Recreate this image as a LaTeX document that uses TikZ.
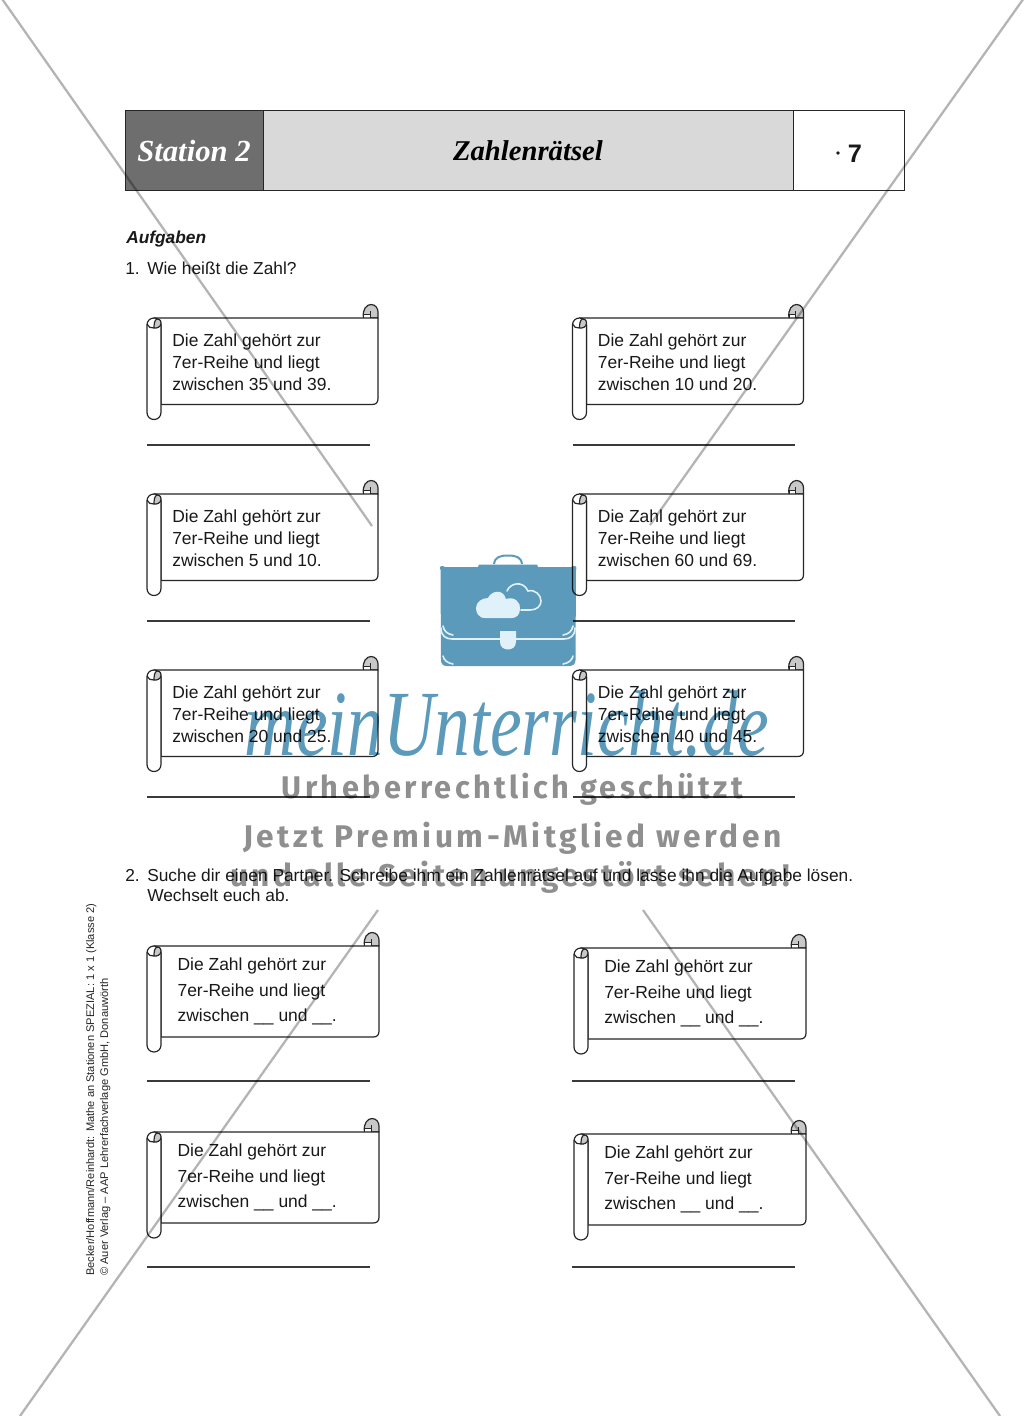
\documentclass[tikz,border=0pt]{standalone}
\usepackage{fontspec}
\usetikzlibrary{calc}
\setmainfont{Liberation Sans}
\newfontfamily\headfont{Liberation Serif}
\newfontfamily\wmscript{Liberation Serif}
\newfontfamily\wmfont[LetterSpace=11]{Fira Sans}
\definecolor{wmblue}{HTML}{5B9ABA}
\definecolor{wmgray}{HTML}{8F8F8F}
\definecolor{diag}{HTML}{B4B4B4}
\definecolor{headdark}{HTML}{6E6E6E}
\definecolor{headlight}{HTML}{D9D9D9}
\definecolor{rollgray}{HTML}{C8C8C8}
\definecolor{linegray}{HTML}{3A3A3A}
\definecolor{cloudpale}{HTML}{E1F1FA}
\tikzset{
  scrollline/.style={draw=black!85,line width=0.9pt,line join=round},
  scrollthin/.style={draw=black!85,line width=0.5pt,line join=round},
  answerline/.style={draw=linegray,line width=0.9pt},
  diagline/.style={draw=diag,line width=1.7pt},
  bodytext/.style={anchor=north west,inner sep=0pt,font=\fontsize{13.1}{16.5}\selectfont,align=left,text=black!90},
  bodytextb/.style={anchor=north west,inner sep=0pt,font=\fontsize{13.1}{18.8}\selectfont,align=left,text=black!90},
  plain/.style={anchor=base west,inner sep=0pt,font=\fontsize{13}{15}\selectfont,text=black!90},
  wmgrey/.style={anchor=base,inner sep=0pt,text=wmgray,font=\fontsize{23.5}{24}\bfseries\wmfont},
  headbox/.style={draw=black!85,line width=0.8pt,minimum height=60pt,inner sep=0pt,anchor=north west},
  sidetext/.style={rotate=90,anchor=base west,inner sep=0pt,font=\fontsize{8.32}{10}\selectfont,text=black!85},
  bagline/.style={draw=cloudpale,line width=1.2pt,line cap=round},
}
% #1 x left, #2 y top, #3 x right, #4 y bottom
\newcommand{\scrollshape}[4]{%
  \begin{scope}[shift={(#1,#2)}]
    \pgfmathsetmacro{\wd}{#3-#1}
    \pgfmathsetmacro{\ht}{#4-#2}
    % right curl
    \filldraw[scrollline,fill=rollgray] (\wd-14.5,0) .. controls (\wd-16,-9) and (\wd-11,-13.5) .. (\wd-7,-13.5) .. controls (\wd-2,-13.5) and (\wd,-9) .. (\wd,-6) -- (\wd,0) -- cycle;
    \filldraw[scrollthin,fill=white] (\wd-14.5,0) -- (\wd-14.5,-4) -- (\wd-8,-4) -- (\wd-8,0) -- cycle;
    \draw[scrollthin] (\wd-8,-4) -- (\wd-8,-7);
    % main sheet
    \filldraw[scrollline,fill=white] (7,0) -- (\wd,0) -- (\wd,\ht-6) .. controls (\wd,\ht-2) and (\wd-2,\ht) .. (\wd-6,\ht) -- (14,\ht) -- (14,7) -- cycle;
    % left roll
    \filldraw[scrollline,fill=white] (7,0) .. controls (3,0) and (0,3) .. (0,7) -- (0,\ht+8) .. controls (0,\ht+12) and (3,\ht+15) .. (7,\ht+15) .. controls (11,\ht+15) and (14,\ht+12) .. (14,\ht+8) -- (14,7) .. controls (14,3) and (11,0) .. (7,0) -- cycle;
    \filldraw[scrollline,fill=rollgray] (14,5) .. controls (14,1.5) and (11,0.5) .. (10,1) .. controls (7.5,2) and (7,6) .. (7,10) .. controls (10,10.5) and (14,9) .. (14,5) -- cycle;
    \draw[scrollline] (0,6) .. controls (1,9) and (4,10.5) .. (7,10) ;
  \end{scope}}
\begin{document}
\begin{tikzpicture}[x=0.75pt,y=-0.75pt]
\useasboundingbox (0,0) rectangle (1024,1416);
\fill[white] (0,0) rectangle (1024,1416);

% header
\node[headbox,fill=headdark,minimum width=103.9pt] (hA) at (124.8,110) {};
\node[headbox,fill=headlight,minimum width=397.5pt] (hB) at (263,110) {};
\node[headbox,fill=white,minimum width=83.25pt] (hC) at (793,110) {};
\node[text=white,inner sep=0pt,font=\fontsize{23}{24}\headfont\bfseries\itshape] (hAt) at (194,151) {Station 2};
\node[text=black,inner sep=0pt,font=\fontsize{21.5}{24}\headfont\bfseries\itshape] (hBt) at (528,151) {Zahlenrätsel};
\node[anchor=base west,text=black!90,inner sep=0pt,font=\fontsize{19}{20}\bfseries] (hCt) at (847.5,162) {7};
\fill[black!90] (838,153) circle[radius=1.8];

% headings
\node[plain,font=\fontsize{13}{15}\bfseries\itshape] (auf) at (126,243.5) {Aufgaben};
\node[plain] (t1n) at (125,274.5) {1.};
\node[plain] (t1) at (147,274.5) {Wie heißt die Zahl?};

% first group
\foreach \xa/\ya/\tx/\nam/\va/\vb in {147/318/172/a/35/39,572.5/318/597.7/b/10/20,147/494/172/c/5/10,572.5/494/597.7/d/60/69,147/670/172/e/20/25,572.5/670/597.7/f/40/45}{
  \pgfmathsetmacro{\xb}{\xa+231}
  \pgfmathsetmacro{\yb}{\ya+86.5}
  \pgfmathsetmacro{\yc}{\ya+127}
  \pgfmathsetmacro{\xc}{\xa+222.5}
  \pgfmathsetmacro{\yt}{\ya+15.5}
  \scrollshape{\xa}{\ya}{\xb}{\yb}
  \node[bodytext] (txt\nam) at (\tx,\yt) {Die Zahl gehört zur\\7er-Reihe und liegt\\zwischen \va{} und \vb.};
  \coordinate (lA\nam) at (\xa,\yc);
  \coordinate (lB\nam) at (\xc,\yc);
  \draw[answerline] (lA\nam) -- (lB\nam);
}

% task 2
\node[plain] (t2n) at (125,881) {2.};
\node[plain] (t2a) at (147,881) {Suche dir einen Partner. Schreibe ihm ein Zahlenrätsel auf und lasse ihn die Aufgabe lösen.};
\node[plain] (t2b) at (147,901.5) {Wechselt euch ab.};

% second group
\foreach \xa/\ya/\tx/\ly/\lx/\nam in {147/946/177.3/1081/147/g,574/948/604/1081/572/h,147/1132/177.3/1267/147/i,574/1134/604/1267/572/j}{
  \pgfmathsetmacro{\xb}{\xa+232}
  \pgfmathsetmacro{\yb}{\ya+91}
  \pgfmathsetmacro{\xc}{\lx+223}
  \pgfmathsetmacro{\yt}{\ya+12}
  \scrollshape{\xa}{\ya}{\xb}{\yb}
  \node[bodytextb] (txt\nam) at (\tx,\yt) {Die Zahl gehört zur\\7er-Reihe und liegt\\zwischen \_\_ und \_\_.};
  \coordinate (lA\nam) at (\lx,\ly);
  \coordinate (lB\nam) at (\xc,\ly);
  \draw[answerline] (lA\nam) -- (lB\nam);
}

% side text
\node[sidetext] (s1) at (94,1276) {Becker/Hoffmann/Reinhardt: Mathe an Stationen SPEZIAL: 1 x 1 (Klasse 2)};
\node[sidetext] (s2) at (108,1276) {© Auer Verlag – AAP Lehrerfachverlage GmbH, Donauwörth};

\begin{scope}[blend mode=multiply]
% diagonal lines
\coordinate (d1a) at (0,-4); \coordinate (d1b) at (372,526);
\coordinate (d2a) at (1024,-2); \coordinate (d2b) at (650,525);
\coordinate (d3a) at (378,910); \coordinate (d3b) at (20,1416);
\coordinate (d4a) at (643,910); \coordinate (d4b) at (1000,1416);
\draw[diagline] (d1a) -- (d1b);
\draw[diagline] (d2a) -- (d2b);
\draw[diagline] (d3a) -- (d3b);
\draw[diagline] (d4a) -- (d4b);

% bag
\fill[wmblue] (440.5,570) .. controls (438.5,566) and (442,565) .. (445,567) -- (478,567) -- (479,564.5) -- (537,564.5) -- (538,567) -- (571,567) .. controls (574,565) and (578,566) .. (576,570) -- (575.5,660) .. controls (575.5,664) and (573,666) .. (569,666) -- (447,666) .. controls (443,666) and (441,664) .. (441,660) -- cycle;
\draw[wmblue,line width=1.5pt] (494,564) .. controls (495,557) and (500,555.5) .. (508,555.5) .. controls (516,555.5) and (521,557) .. (522,564);
\end{scope}
% bag details
\fill[cloudpale] (485,618) .. controls (478,618) and (476,612) .. (476,608) .. controls (476,602) and (482,598) .. (488,598) .. controls (491,591) and (503,588) .. (506,599) .. controls (515,596) and (521,603) .. (520,609) .. controls (520,615) and (516,618) .. (512,618) -- cycle;
\draw[bagline] (507,591) .. controls (510,583) and (523,580) .. (528,591) .. controls (535,589) and (541,595) .. (541,601) .. controls (541,606) and (537,610) .. (530,610) -- (521,610);
\draw[bagline] (441,628) .. controls (441,636) and (446,639) .. (452,639) -- (564,639) .. controls (570,639) and (575,636) .. (575,628);
\draw[bagline] (443,626) .. controls (444,631) and (447,634) .. (453,635);
\draw[bagline] (573,626) .. controls (572,631) and (569,634) .. (563,635);
\draw[bagline] (443,656) .. controls (444,660) and (447,663) .. (453,664);
\draw[bagline] (573,656) .. controls (572,660) and (569,663) .. (563,664);
\fill[cloudpale] (500,631) -- (516,631) -- (516,642) .. controls (516,652) and (500,652) .. (500,642) -- cycle;

% watermark
\begin{scope}[blend mode=multiply]
\node[anchor=base,inner sep=0pt,text=wmblue,xscale=0.764,font=\fontsize{70}{72}\wmscript\itshape] (wm1) at (507,755) {meinUnterricht.de};
\node[wmgrey,xscale=0.98] (wm2) at (512.5,798) {Urheberrechtlich geschützt};
\node[wmgrey,xscale=1.01] (wm3) at (512.5,847) {Jetzt Premium-Mitglied werden};
\node[wmgrey,xscale=1.01] (wm4) at (510,886) {und alle Seiten ungestört sehen!};
\end{scope}
\end{tikzpicture}
\end{document}
